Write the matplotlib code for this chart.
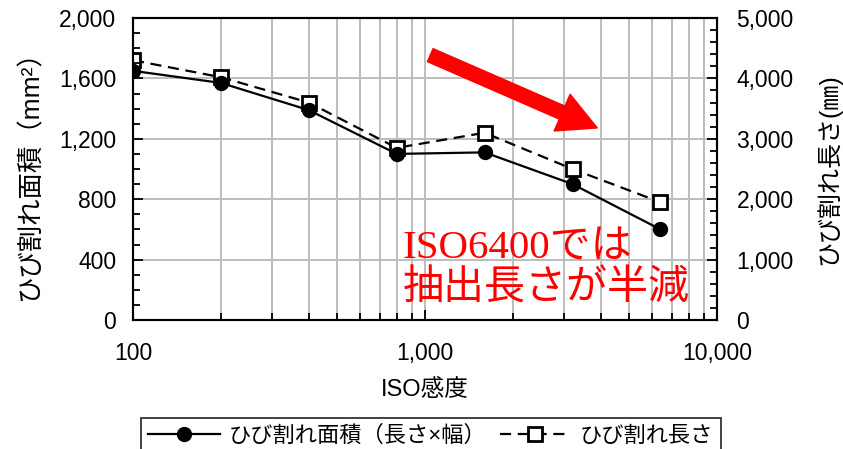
import matplotlib
matplotlib.use("Agg")
import matplotlib.pyplot as plt
from matplotlib.lines import Line2D
from matplotlib.ticker import MultipleLocator, FuncFormatter, LogLocator, NullFormatter

plt.rcParams['font.family'] = ['Liberation Sans', 'Noto Sans CJK JP']

# ISO感度ごとのひび割れ測定値
iso = [100, 200, 400, 800, 1600, 3200, 6400]
area = [1650, 1570, 1390, 1100, 1110, 900, 600]          # ひび割れ面積 (mm2)
length = [4300, 4020, 3600, 2850, 3100, 2500, 1950]      # ひび割れ長さ (mm)

label_area = "ひび割れ面積（長さ×幅）"
label_length = "ひび割れ長さ"

fig = plt.figure(figsize=(8.43, 4.49), dpi=100)
ax = fig.add_axes([133/843, 1-320/449, 584/843, 302/449])
ax2 = ax.twinx()

# 右軸を下に、左軸(面積)を上に重ねる
ax.set_zorder(3)
ax.patch.set_visible(False)
ax2.set_zorder(1)
ax2.patch.set_visible(True)
ax2.patch.set_facecolor('white')

ax.set_xscale('log')
ax.set_xlim(100, 10000)
ax.set_ylim(0, 2000)
ax2.set_ylim(0, 5000)

comma = FuncFormatter(lambda v, p: f"{int(v):,}")
ax.xaxis.set_major_formatter(comma)
ax.xaxis.set_minor_locator(LogLocator(base=10, subs=range(2, 10)))
ax.xaxis.set_minor_formatter(NullFormatter())
ax.yaxis.set_major_locator(MultipleLocator(400))
ax.yaxis.set_minor_locator(MultipleLocator(100))
ax.yaxis.set_major_formatter(comma)
ax2.yaxis.set_major_locator(MultipleLocator(1000))
ax2.yaxis.set_minor_locator(MultipleLocator(200))
ax2.yaxis.set_major_formatter(comma)

# グリッドは下側の軸に描く
ax2.xaxis.set_visible(True)
ax2.grid(True, which='both', axis='x', color='#bdbdbd', linewidth=1.4)
ax2.grid(True, which='major', axis='y', color='#bdbdbd', linewidth=1.4)
ax2.tick_params(axis='x', which='both', bottom=False, top=False,
                labelbottom=False, labeltop=False)

ax.tick_params(axis='both', which='both', direction='in', labelsize=16.5,
               width=1.3, color='black')
ax.tick_params(axis='both', which='major', length=7)
ax.tick_params(axis='both', which='minor', length=5)
ax.tick_params(axis='x', pad=16)
ax.tick_params(axis='y', pad=12)
ax2.tick_params(axis='y', which='both', direction='in', labelsize=16.5,
                width=1.3, pad=14)
ax2.tick_params(axis='y', which='major', length=7)
ax2.tick_params(axis='y', which='minor', length=5)

for a in (ax, ax2):
    for s in a.spines.values():
        s.set_linewidth(1.5)
        s.set_color('black')

ax2.plot(iso, length, color='black', linestyle=(0, (5, 3)), linewidth=1.6,
         marker='s', markersize=10, markerfacecolor='white',
         markeredgecolor='black', markeredgewidth=2)
ax.plot(iso, area, color='black', linewidth=1.6, marker='o', markersize=10,
        markerfacecolor='black', markeredgecolor='black')

ax.set_xlabel("ISO感度", fontsize=17, labelpad=10)
ax.set_ylabel("ひび割れ面積（mm²）", fontsize=19, labelpad=12)
ax2.set_ylabel("ひび割れ長さ(㎜)", fontsize=18, labelpad=16)

# 注記と矢印
ax.text(0.462, 0.166, "ISO6400では\n抽出長さが半減", transform=ax.transAxes,
        color='red', fontsize=29.5, ha='left', va='center', linespacing=1.1,
        family=['Liberation Serif', 'Noto Sans CJK JP'])
ax.annotate('', xy=(0.795, 0.636), xytext=(0.509, 0.877),
            xycoords='axes fraction', textcoords='axes fraction',
            arrowprops=dict(arrowstyle='simple,head_width=2.4,head_length=2.3,tail_width=0.85',
                            color='red', mutation_scale=12,
                            shrinkA=0, shrinkB=0))

handles = [
    Line2D([], [], color='black', linewidth=1.6, marker='o', markersize=10,
           markerfacecolor='black'),
    Line2D([], [], color='black', linestyle=(0, (5, 3)), linewidth=1.6,
           marker='s', markersize=10, markerfacecolor='white',
           markeredgewidth=2),
]
leg = fig.legend(handles, [label_area, label_length], loc='upper center',
                 bbox_to_anchor=(0.511, 0.094), ncol=2, fontsize=16,
                 frameon=True, fancybox=False, edgecolor='black',
                 handlelength=3.2, columnspacing=0.6, handletextpad=0.4,
                 borderpad=0.35)
leg.get_frame().set_linewidth(1.3)

fig.savefig("out.png", dpi=100)
